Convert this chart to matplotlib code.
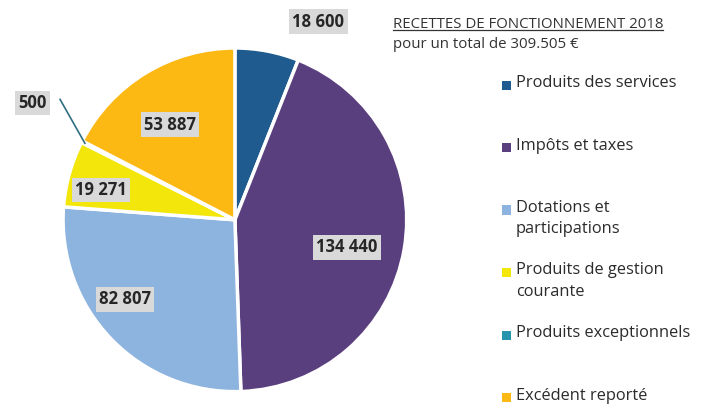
import numpy as np
import matplotlib
matplotlib.use('Agg')
import matplotlib.pyplot as plt
from matplotlib.patches import Rectangle
from matplotlib.lines import Line2D

categories = ['Produits des services', 'Impôts et taxes', 'Dotations et\nparticipations',
              'Produits de gestion\ncourante', 'Produits exceptionnels', 'Excédent reporté']
values = [18600, 134440, 82807, 19271, 500, 53887]
value_labels = ['18 600', '134 440', '82 807', '19 271', '500', '53 887']
colors = ['#1f5b8e', '#5a3f7e', '#8db3df', '#f2e60a', '#2794ad', '#fdb913']

plt.rcParams['font.family'] = ['Open Sans', 'DejaVu Sans']

fig = plt.figure(figsize=(7.25, 4.12), dpi=100)
ax = fig.add_axes([0.087, 0.049, 0.474, 0.835])

wedges, _ = ax.pie(values, colors=colors, startangle=90, counterclock=False,
                   wedgeprops=dict(edgecolor='white', linewidth=2.5))
ax.set_aspect('equal')
ax.set_xlim(-1, 1)
ax.set_ylim(-1, 1)

# label placement (radius, angle shift from slice middle)
lab_r = [1.25, 0.67, 0.79, 0.80, 1.36, 0.67]
lab_shift = [-12, -4, -8, 3, -3, 3]
for i, w in enumerate(wedges):
    mid = (w.theta1 + w.theta2) / 2 + lab_shift[i]
    x = lab_r[i] * np.cos(np.radians(mid))
    y = lab_r[i] * np.sin(np.radians(mid))
    ax.text(x, y, value_labels[i], ha='center', va='center', fontsize=12,
            fontweight='bold', color='#262626', clip_on=False,
            bbox=dict(boxstyle='square,pad=0.2', facecolor='#d9d9d9', edgecolor='none'))
    if i == 4:
        m = np.radians((w.theta1 + w.theta2) / 2)
        ax.plot([x + 0.16, 0.98 * np.cos(m)], [y + 0.02, 0.98 * np.sin(m)],
                color='#2f6f80', lw=1.2, clip_on=False)

# title
t1 = fig.text(393 / 725, 1 - 24 / 412, 'RECETTES DE FONCTIONNEMENT 2018', fontsize=10.8,
              color='#333333', va='center', ha='left')
fig.text(393 / 725, 1 - 45 / 412, 'pour un total de 309.505 €', fontsize=10.8,
         color='#333333', va='center', ha='left')
fig.canvas.draw()
bb = t1.get_window_extent().transformed(fig.transFigure.inverted())
fig.add_artist(Line2D([bb.x0, bb.x1], [bb.y0 + 0.004, bb.y0 + 0.004],
                      transform=fig.transFigure, color='#333333', lw=0.9))

# legend
for i, lab in enumerate(categories):
    yc = 1 - (85 + i * 62.5) / 412
    fig.add_artist(Rectangle((502 / 725, yc - 4.5 / 412), 9 / 725, 9 / 412,
                             transform=fig.transFigure, facecolor=colors[i], edgecolor='none'))
    fig.text(516 / 725, yc + 10 / 412, lab, fontsize=11.8, color='#2b2b2b',
             va='top', ha='left', linespacing=1.45)

fig.savefig('out.png', dpi=100)
